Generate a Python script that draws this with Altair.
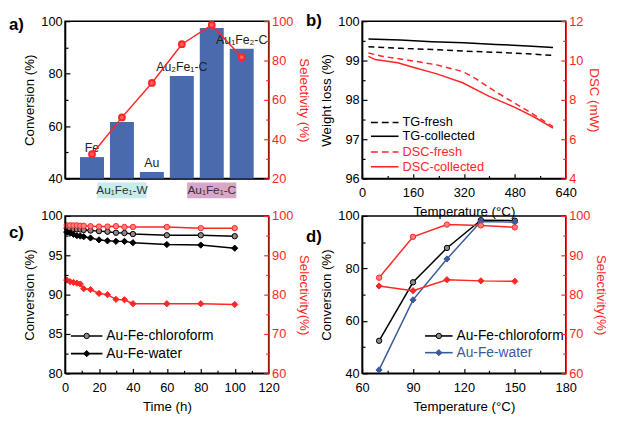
import altair as alt
import pandas as pd

FONT = "Liberation Sans"
RED = "#ff2626"
BAR = "#4a6aae"
BLUE = "#3b5a9c"
W, H = 207, 160

# ---------------- panel a ----------------
a_names = ["Fe", "Au₁Fe₁-W", "Au", "Au₂Fe₁-C", "Au₁Fe₁-C", "Au₁Fe₂-C"]
a_conversion = [48.2, 61.6, 42.5, 79.1, 97.4, 89.5]
a_selectivity = [32.4, 51.1, 68.6, 88.3, 98.1, 81.7]
a_top_labels = ["Fe", "", "Au", "Au₂Fe₁-C", "", "Au₁Fe₂-C"]
a_box_names = ["Au₁Fe₁-W", "Au₁Fe₁-C"]
a_box_fills = ["#c8eceb", "#d8a5cb"]

# ---------------- panel b ----------------
b_temp_tg = [20, 120, 220, 320, 420, 520, 600]
b_tg_fresh = [99.35, 99.31, 99.28, 99.24, 99.21, 99.17, 99.13]
b_tg_collected = [99.55, 99.52, 99.48, 99.45, 99.41, 99.37, 99.33]
b_temp_dsc_fresh = [20, 66, 163, 235, 316, 357, 418, 469, 520, 600]
b_dsc_fresh = [10.38, 10.21, 9.97, 9.78, 9.44, 9.08, 8.43, 7.94, 7.45, 6.64]
b_temp_dsc_collected = [20, 41, 112, 163, 235, 316, 398, 480, 541, 600]
b_dsc_collected = [10.21, 10.05, 9.89, 9.65, 9.32, 8.87, 8.19, 7.62, 7.13, 6.56]

# ---------------- panel c ----------------
c_time = [1, 3, 5, 7, 9, 11, 15, 20, 25, 30, 35, 40, 60, 80, 100]
c_conv_chloroform = [98.45, 98.4, 98.35, 98.3, 98.28, 98.22, 98.15, 98.07, 98.0, 97.87, 97.83, 97.7, 97.55, 97.55, 97.43]
c_conv_water = [97.95, 97.8, 97.65, 97.5, 97.45, 97.36, 97.2, 96.96, 96.84, 96.77, 96.77, 96.6, 96.37, 96.3, 95.9]
c_sel_chloroform = [97.6, 97.6, 97.6, 97.6, 97.5, 97.5, 97.4, 97.3, 97.3, 97.4, 97.2, 97.2, 97.2, 96.9, 96.9]
c_sel_water = [83.7, 83.3, 83.1, 82.9, 82.7, 81.5, 81.3, 80.3, 80.0, 78.8, 78.7, 77.7, 77.7, 77.7, 77.5]

# ---------------- panel d ----------------
d_temp = [70, 90, 110, 130, 150]
d_conv_chloroform = [52.4, 74.7, 87.8, 98.4, 98.2]
d_conv_water = [41.3, 68.0, 83.6, 97.9, 97.6]
d_sel_chloroform = [84.3, 94.7, 97.8, 97.6, 97.1]
d_sel_water = [82.2, 81.0, 83.8, 83.5, 83.4]

dummy = pd.DataFrame({"d": [0]})


def ticks(lo, hi, step):
    n = int(round((hi - lo) / step))
    return [round(lo + i * step, 6) for i in range(n + 1)]


def num_axis(lo, hi, minor, major, title, orient, color="black", pad=8):
    test = f"abs(datum.value/{major} - round(datum.value/{major})) < 1e-6"
    return alt.Axis(
        values=ticks(lo, hi, minor), title=title, orient=orient,
        labelExpr=f"{test} ? format(datum.value, 'd') : ''",
        tickSize={"expr": f"{test} ? -5 : -3"},
        labelPadding=pad, labelOverlap=False, labelFlush=False,
        domainColor=color, tickColor=color, labelColor=color, titleColor=color,
        grid=False, zindex=1,
    )


def qscale(lo, hi):
    return alt.Scale(domain=[lo, hi], nice=False, zero=False)


def series(xs, ys, X, Y, color, shape=None, fill=None, dash=None, size=30):
    df = pd.DataFrame({"x": xs, "y": ys})
    base = alt.Chart(df).encode(x=X, y=Y)
    lk = dict(color=color, strokeWidth=1.5)
    if dash:
        lk["strokeDash"] = dash
    layers = [base.mark_line(**lk)]
    if shape:
        layers.append(base.mark_point(shape=shape, filled=True, fill=fill, stroke=color,
                                      strokeWidth=1, size=size, opacity=1))
    return layers


def legend_item(x0, x1, y, label, color, text_color, dash=None, shape=None, fill=None, fs=13, size=30):
    lk = dict(color=color, strokeWidth=1.6)
    if dash:
        lk["strokeDash"] = dash
    layers = [alt.Chart(dummy).mark_rule(**lk).encode(x=alt.value(x0), x2=alt.value(x1), y=alt.value(y))]
    if shape:
        layers.append(alt.Chart(dummy).mark_point(shape=shape, filled=True, fill=fill, stroke=color,
                                                  strokeWidth=1, size=size, opacity=1)
                      .encode(x=alt.value((x0 + x1) / 2), y=alt.value(y)))
    layers.append(alt.Chart(dummy).mark_text(text=label, color=text_color, align="left",
                                             baseline="middle", fontSize=fs)
                  .encode(x=alt.value(x1 + 4), y=alt.value(y)))
    return layers


def panel_label(txt, dy):
    return alt.Chart(dummy).mark_text(text=txt, fontSize=17, fontWeight="bold", align="left",
                                      baseline="middle", color="black").encode(
        x=alt.value(-57), y=alt.value(dy))


# ================= panel a =================
a_df = pd.DataFrame({"name": a_names, "conv": a_conversion, "sel": a_selectivity, "top": a_top_labels})
box_df = pd.DataFrame({"name": a_box_names, "fill": a_box_fills})
Xa = alt.X("name:N", sort=a_names, scale=alt.Scale(paddingInner=0.2, paddingOuter=0.5),
           axis=alt.Axis(title=None, labels=False, ticks=False, domainColor="black"))
Ya = alt.Y("conv:Q", scale=qscale(40, 100), axis=num_axis(40, 100, 10, 20, "Conversion (%)", "left"))
Ya_r = alt.Y("sel:Q", scale=qscale(20, 100),
             axis=num_axis(20, 100, 10, 20, "Selectivity (%)", "right", RED))

a_bars = alt.Chart(a_df).mark_bar(color=BAR).encode(x=Xa, y=Ya, y2=alt.datum(40))
a_top = alt.Chart(a_df).mark_text(baseline="bottom", dy=-2, fontSize=12.5, color="#222").encode(
    x=Xa, y=Ya, text="top:N")
a_box = alt.Chart(box_df).mark_bar(width=50, clip=False).encode(
    x=Xa, y=alt.value(H + 4), y2=alt.value(H + 20), color=alt.Color("fill:N", scale=None))
a_box_text = alt.Chart(box_df).mark_text(fontSize=12, color="#333", baseline="middle").encode(
    x=Xa, y=alt.value(H + 12), text="name:N")
a_left = alt.layer(a_bars, a_top, a_box, a_box_text, panel_label("a)", 4))
a_base = alt.Chart(a_df).encode(x=Xa, y=Ya_r)
a_right = alt.layer(a_base.mark_line(color=RED, strokeWidth=1.5),
                    a_base.mark_point(shape="circle", filled=True, fill="#ff6060", stroke=RED,
                                      size=35, opacity=1))
panel_a = alt.layer(a_left, a_right).resolve_scale(y="independent").properties(width=W, height=H)

# ================= panel b =================
Xb = alt.X("x:Q", scale=qscale(0, 640),
           axis=num_axis(0, 640, 80, 160, "Temperature (°C)", "bottom", pad=13))
Yb = alt.Y("y:Q", scale=qscale(96, 100), axis=num_axis(96, 100, 0.5, 1, "Weight loss (%)", "left"))
Yb_r = alt.Y("y:Q", scale=qscale(4, 12), axis=num_axis(4, 12, 1, 2, "DSC (mW)", "right", RED))
b_left_layers = (series(b_temp_tg, b_tg_fresh, Xb, Yb, "black", dash=[6, 4])
                 + series(b_temp_tg, b_tg_collected, Xb, Yb, "black"))
leg_b = []
for i, (lab, col, dash) in enumerate([("TG-fresh", "black", [7, 4]), ("TG-collected", "black", None),
                                      ("DSC-fresh", RED, [7, 4]), ("DSC-collected", RED, None)]):
    yy = [103, 117, 133, 148][i]
    leg_b += legend_item(9, 37, yy, lab, col, col, dash=dash)
b_left = alt.layer(*b_left_layers, *leg_b, panel_label("b)", 0))
b_right = alt.layer(*(series(b_temp_dsc_fresh, b_dsc_fresh, Xb, Yb_r, RED, dash=[6, 4])
                      + series(b_temp_dsc_collected, b_dsc_collected, Xb, Yb_r, RED)))
panel_b = alt.layer(b_left, b_right).resolve_scale(y="independent").properties(width=W, height=H)

# ================= panel c =================
Xc = alt.X("x:Q", scale=qscale(0, 120), axis=num_axis(0, 120, 10, 20, "Time (h)", "bottom", pad=13))
Yc = alt.Y("y:Q", scale=qscale(80, 100), axis=num_axis(80, 100, 2.5, 5, "Conversion (%)", "left"))
Yc_r = alt.Y("y:Q", scale=qscale(60, 100), axis=num_axis(60, 100, 5, 10, "Selectivity(%)", "right", RED))
c_left = alt.layer(
    *series(c_time, c_conv_chloroform, Xc, Yc, "black", shape="circle", fill="#8a8a8a"),
    *series(c_time, c_conv_water, Xc, Yc, "black", shape="diamond", fill="black", size=40),
    *legend_item(6, 38, 122, "Au-Fe-chloroform", "black", "black", shape="circle", fill="#8a8a8a", fs=14),
    *legend_item(6, 38, 140, "Au-Fe-water", "black", "black", shape="diamond", fill="black", fs=14, size=40),
    panel_label("c)", 17),
)
c_right = alt.layer(
    *series(c_time, c_sel_chloroform, Xc, Yc_r, RED, shape="circle", fill="#ff8080"),
    *series(c_time, c_sel_water, Xc, Yc_r, RED, shape="diamond", fill=RED, size=40),
)
panel_c = alt.layer(c_left, c_right).resolve_scale(y="independent").properties(width=W, height=H)

# ================= panel d =================
Xd = alt.X("x:Q", scale=qscale(60, 180),
           axis=num_axis(60, 180, 15, 30, "Temperature (°C)", "bottom", pad=13))
Yd = alt.Y("y:Q", scale=qscale(40, 100), axis=num_axis(40, 100, 10, 20, "Conversion (%)", "left"))
Yd_r = alt.Y("y:Q", scale=qscale(60, 100), axis=num_axis(60, 100, 5, 10, "Selectivity(%)", "right", RED))
d_left = alt.layer(
    *series(d_temp, d_conv_chloroform, Xd, Yd, "black", shape="circle", fill="#8a8a8a"),
    *series(d_temp, d_conv_water, Xd, Yd, BLUE, shape="diamond", fill=BLUE, size=40),
    *legend_item(64, 92, 122, "Au-Fe-chloroform", "black", "black", shape="circle", fill="#8a8a8a", fs=14),
    *legend_item(64, 92, 139, "Au-Fe-water", BLUE, BLUE, shape="diamond", fill=BLUE, fs=14, size=40),
    panel_label("d)", 21),
)
d_right = alt.layer(
    *series(d_temp, d_sel_chloroform, Xd, Yd_r, RED, shape="circle", fill="#ff8080"),
    *series(d_temp, d_sel_water, Xd, Yd_r, RED, shape="diamond", fill=RED, size=40),
)
panel_d = alt.layer(d_left, d_right).resolve_scale(y="independent").properties(width=W, height=H)

chart = alt.concat(panel_a, panel_b, panel_c, panel_d, columns=2,
                   spacing={"row": 38, "column": 95}, bounds="flush").properties(
    padding={"left": 0, "top": 0, "right": 0, "bottom": 0}
).configure_view(stroke="black", strokeWidth=1.5).configure_axis(
    labelFont=FONT, titleFont=FONT, labelFontSize=13, titleFontSize=13.5,
    titleFontWeight="normal", domainWidth=1.5, tickWidth=1.2,
).configure_text(font=FONT)

chart.save("out.html", embed_options={"renderer": "svg", "actions": False})
